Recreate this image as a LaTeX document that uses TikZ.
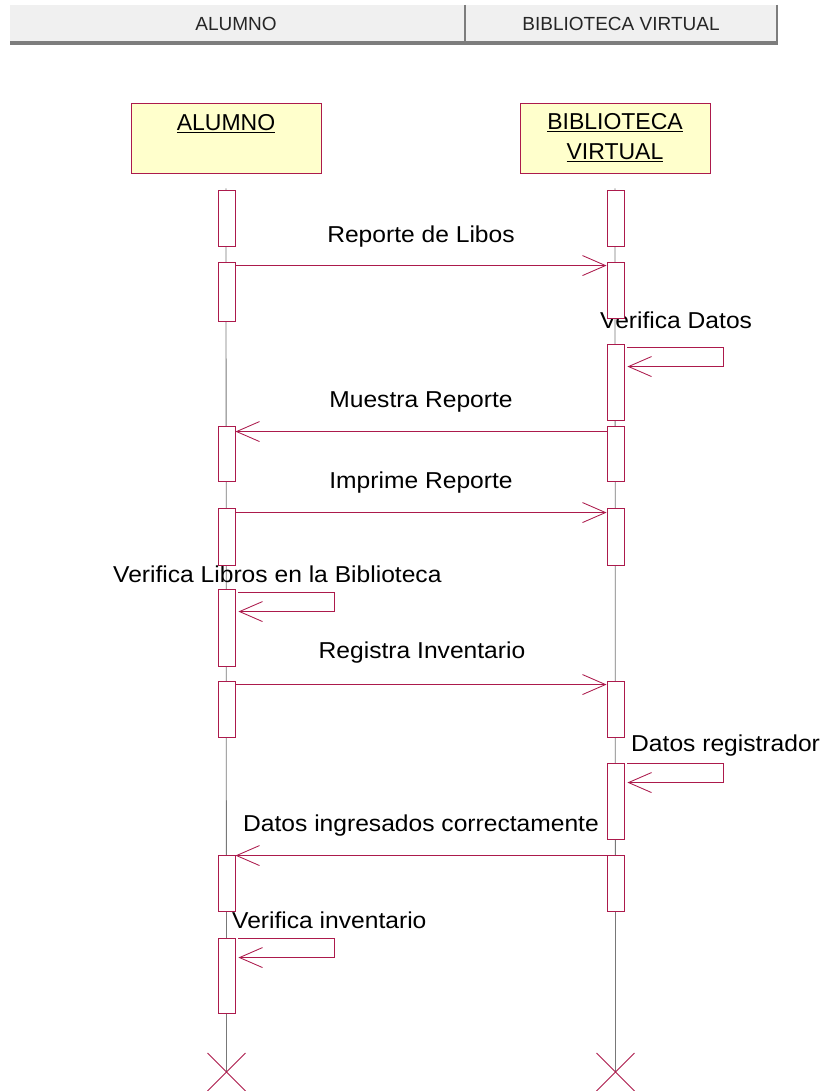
\documentclass[tikz,border=0pt]{standalone}
\usepackage{fontspec}
\setmainfont{Liberation Sans}
\newfontfamily\msgfont{Liberation Sans}[FakeStretch=1.07]
\usetikzlibrary{arrows.meta,calc}
\definecolor{umlred}{RGB}{172,26,76}
\definecolor{actfill}{RGB}{255,255,204}
\definecolor{hdrfill}{RGB}{240,240,240}
\definecolor{hdrdark}{RGB}{125,125,125}
\definecolor{lifegray}{RGB}{120,120,120}
\newcommand{\actbox}[4]{\node[actbox, minimum height={#4-#3}] (#1) at (#2,{(#3+#4)/2}) {};}
\begin{document}
\begin{tikzpicture}[x=1pt,y=-1pt,
  actor/.style={draw=umlred, fill=actfill, line width=0.9pt, minimum width=190pt, minimum height=70pt, inner sep=0pt},
  actbox/.style={draw=umlred, fill=white, line width=0.9pt, minimum width=17pt, inner sep=0pt},
  msg/.style={draw=umlred, line width=0.85pt, -{Straight Barb[length=23pt,width=20pt]}},
  lifeline/.style={draw=lifegray, line width=0.8pt},
  lbl/.style={inner sep=0pt, font=\msgfont\fontsize{23}{27}\selectfont},
  actorlbl/.style={inner sep=0pt, font=\fontsize{23}{30}\selectfont, align=center},
  hdrlbl/.style={inner sep=0pt, text=black!85, font=\fontsize{19}{22}\selectfont},
  destroy/.style={draw=umlred, line width=0.9pt}
]
\useasboundingbox[fill=white] (0,0) rectangle (828,1091);

% header bar
\fill[hdrfill] (10,5) rectangle (777,42);
\fill[hdrdark] (10,41) rectangle (778,45);
\draw[hdrdark, line width=1.6pt] (465,5) -- (465,44);
\draw[hdrdark, line width=1.6pt] (777,5) -- (777,45);
\node[hdrlbl] (hA) at (236,24) {ALUMNO};
\node[hdrlbl] (hB) at (621,24) {BIBLIOTECA VIRTUAL};

% actors
\node[actor] (alumno) at (226,138) {};
\node[actor] (biblio) at (615,138) {};
\node[actorlbl, anchor=center] (alumnoT) at (226,124) {\underline{ALUMNO}};
\node[actorlbl, anchor=center] (biblioT) at (615,138) {\underline{BIBLIOTECA}\\\underline{VIRTUAL}};

% lifelines
\coordinate (xa) at (226.5,1072);
\coordinate (xb) at (615.5,1072);
\draw[lifeline] ([yshift=-15pt]alumno.south) -- (xa);
\draw[lifeline] ([yshift=-15pt]biblio.south) -- (xb);

% message labels (drawn under the activation boxes)
\node[lbl] (m1) at (421,237) {Reporte de Libos};
\node[lbl, anchor=west] (m2) at (600,320) {Verifica Datos};
\node[lbl] (m3) at (421,402) {Muestra Reporte};
\node[lbl] (m4) at (421,483) {Imprime Reporte};
\node[lbl, anchor=west] (m5) at (113,574) {Verifica Libros en la Biblioteca};
\node[lbl] (m6) at (422,653) {Registra Inventario};
\node[lbl, anchor=west] (m7) at (631,746) {Datos registrador};
\node[lbl] (m8) at (421,826) {Datos ingresados correctamente};
\node[lbl, anchor=west] (m9) at (232,920) {Verifica inventario};

% activation boxes
\actbox{a1}{226.5}{190}{246}
\actbox{a2}{226.5}{262}{321}
\actbox{a3}{226.5}{426}{481}
\actbox{a4}{226.5}{508}{565}
\actbox{a5}{226.5}{589}{666}
\actbox{a6}{226.5}{681}{737}
\actbox{a7}{226.5}{855}{911}
\actbox{a8}{226.5}{938}{1013}
\actbox{b1}{615.5}{190}{246}
\actbox{b2}{615.5}{262}{318}
\actbox{b3}{615.5}{344}{420}
\actbox{b4}{615.5}{426}{481}
\actbox{b5}{615.5}{508}{565}
\actbox{b6}{615.5}{681}{737}
\actbox{b7}{615.5}{763}{839}
\actbox{b8}{615.5}{855}{911}

% messages
\draw[msg] ([yshift=-4pt]a2.north east) -- ([yshift=-4pt]b2.north west);
\draw[msg] ([xshift=3pt,yshift=-4pt]b3.north east) -- ++(96,0) -- ++(0,19) -- ([xshift=3pt,yshift=-23pt]b3.north east);
\draw[msg] ([yshift=-6pt]b4.north west) -- ([yshift=-6pt]a3.north east);
\draw[msg] ([yshift=-5pt]a4.north east) -- ([yshift=-5pt]b5.north west);
\draw[msg] ([xshift=3pt,yshift=-4pt]a5.north east) -- ++(96,0) -- ++(0,19) -- ([xshift=3pt,yshift=-23pt]a5.north east);
\draw[msg] ([yshift=-4pt]a6.north east) -- ([yshift=-4pt]b6.north west);
\draw[msg] ([xshift=3pt,yshift=-1pt]b7.north east) -- ++(96,0) -- ++(0,19) -- ([xshift=3pt,yshift=-20pt]b7.north east);
\draw[msg] ([yshift=-1pt]b8.north west) -- ([yshift=-1pt]a7.north east);
\draw[msg] ([xshift=3pt,yshift=-1pt]a8.north east) -- ++(96,0) -- ++(0,19) -- ([xshift=3pt,yshift=-20pt]a8.north east);

% destruction marks
\draw[destroy] ($(xa)+(-19,-19)$) -- ($(xa)+(19,19)$);
\draw[destroy] ($(xa)+(-19,19)$) -- ($(xa)+(19,-19)$);
\draw[destroy] ($(xb)+(-19,-19)$) -- ($(xb)+(19,19)$);
\draw[destroy] ($(xb)+(-19,19)$) -- ($(xb)+(19,-19)$);
\end{tikzpicture}
\end{document}
